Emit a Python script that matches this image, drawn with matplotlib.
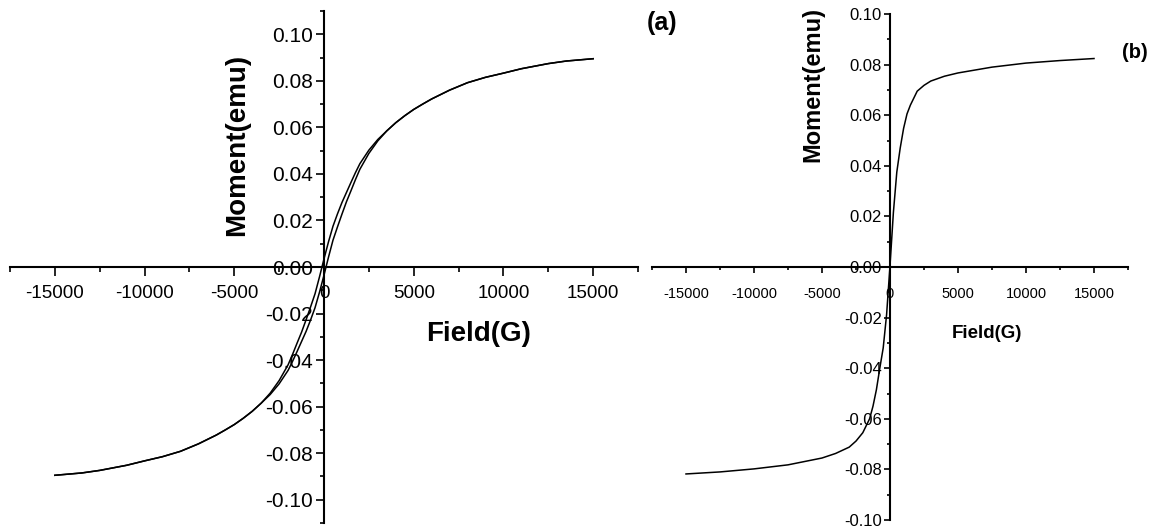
import matplotlib
matplotlib.use("Agg")
import matplotlib.pyplot as plt
from matplotlib.ticker import MultipleLocator, FuncFormatter
from matplotlib import font_manager

# ---------------- data ----------------
# Panel (a): hysteresis loop, two branches
field_a = [-15000, -13500, -12500, -11000, -10000, -9000, -8000, -7000, -6000, -5500,
           -5000, -4500, -4000, -3500, -3000, -2500, -2000, -1750, -1500, -1250,
           -1000, -750, -500, -250, 0, 250, 500, 750, 1000, 1250, 1500, 1750, 2000,
           2500, 3000, 3500, 4000, 4500, 5000, 5500, 6000, 7000, 8000, 9000, 10000,
           11000, 12500, 13500, 15000]
moment_a_desc = [-0.0895, -0.0885, -0.0874, -0.0852, -0.0833, -0.0815, -0.0792, -0.0760,
                 -0.0722, -0.0700, -0.0677, -0.0650, -0.0620, -0.0585, -0.0542, -0.0488,
                 -0.0420, -0.0375, -0.0327, -0.0280, -0.0227, -0.0172, -0.0115, -0.0042,
                 0.0035, 0.0108, 0.0175, 0.0228, 0.0277, 0.0320, 0.0363, 0.0405, 0.0444,
                 0.0502, 0.0548, 0.0585, 0.0620, 0.0650, 0.0677, 0.0700, 0.0722, 0.0760,
                 0.0792, 0.0815, 0.0833, 0.0852, 0.0874, 0.0885, 0.0895]
moment_a_asc = [-0.0895, -0.0885, -0.0874, -0.0852, -0.0833, -0.0815, -0.0792, -0.0760,
                -0.0722, -0.0700, -0.0677, -0.0650, -0.0620, -0.0585, -0.0548, -0.0502,
                -0.0444, -0.0405, -0.0363, -0.0320, -0.0277, -0.0228, -0.0175, -0.0108,
                -0.0035, 0.0042, 0.0115, 0.0172, 0.0227, 0.0280, 0.0327, 0.0375, 0.0420,
                0.0488, 0.0542, 0.0585, 0.0620, 0.0650, 0.0677, 0.0700, 0.0722, 0.0760,
                0.0792, 0.0815, 0.0833, 0.0852, 0.0874, 0.0885, 0.0895]

# Panel (b): single magnetisation curve
field_b = [-15000, -12500, -10000, -7500, -5000, -4000, -3000, -2500, -2000, -1500,
           -1250, -1000, -750, -500, -250, 0, 250, 500, 750, 1000, 1250, 1500, 2000,
           2500, 3000, 4000, 5000, 7500, 10000, 12500, 15000]
moment_b = [-0.0818, -0.0810, -0.0798, -0.0782, -0.0755, -0.0737, -0.0712, -0.0688,
            -0.0655, -0.0600, -0.0550, -0.0485, -0.0400, -0.0320, -0.0188, 0.0005,
            0.0216, 0.0375, 0.0470, 0.0548, 0.0605, 0.0640, 0.0695, 0.0718, 0.0735,
            0.0754, 0.0767, 0.0790, 0.0806, 0.0816, 0.0824]

x_major = 5000
y_major = 0.02
x_label = "Field(G)"
y_label = "Moment(emu)"

# ---------------- style ----------------
names = {f.name for f in font_manager.fontManager.ttflist}
base = "Liberation Sans" if "Liberation Sans" in names else "DejaVu Sans"
plt.rcParams["font.family"] = [base, "DejaVu Sans"]

W, H = 1152, 530
fig = plt.figure(figsize=(W / 100, H / 100), dpi=100)


def px_rect(l, t, r, b):
    return [l / W, 1 - b / H, (r - l) / W, (b - t) / H]


def style_axes(ax, xlim, ylim, xsize, ysize, xlen, ylen, xpad, ypad):
    ax.set_xlim(*xlim)
    ax.set_ylim(*ylim)
    for s in ("top", "right"):
        ax.spines[s].set_visible(False)
    for s in ("left", "bottom"):
        ax.spines[s].set_position(("data", 0))
        ax.spines[s].set_linewidth(1.5)
    ax.xaxis.set_major_locator(MultipleLocator(x_major))
    ax.xaxis.set_minor_locator(MultipleLocator(x_major / 2))
    ax.yaxis.set_major_locator(MultipleLocator(y_major))
    ax.yaxis.set_minor_locator(MultipleLocator(y_major / 2))
    ax.xaxis.set_major_formatter(FuncFormatter(lambda v, p: f"{int(round(v))}"))
    ax.yaxis.set_major_formatter(FuncFormatter(
        lambda v, p: "0.00" if abs(v) < 1e-9 else f"{v:.2f}"))
    ax.tick_params(axis="x", which="major", direction="out", length=xlen, width=1.2,
                   labelsize=xsize, pad=xpad)
    ax.tick_params(axis="x", which="minor", direction="out", length=xlen * 0.5, width=1.2)
    ax.tick_params(axis="y", which="major", direction="out", length=ylen, width=1.2,
                   labelsize=ysize, pad=ypad)
    ax.tick_params(axis="y", which="minor", direction="out", length=ylen * 0.5, width=1.2)
    ax.patch.set_alpha(0)


# Panel (a)
ax_a = fig.add_axes(px_rect(10, 11, 638, 523))
ax_a.plot(field_a, moment_a_desc, color="black", lw=1.1)
ax_a.plot(field_a, moment_a_asc, color="black", lw=1.1)
style_axes(ax_a, (-17500, 17500), (-0.11, 0.11), 13.5, 15, 6.5, 6, 6.5, 2)
fig.text(237 / W, 1 - 145 / H, y_label, rotation=90, ha="center", va="center",
         fontsize=20, fontweight="bold")
fig.text(479 / W, 1 - 334 / H, x_label, ha="center", va="center",
         fontsize=20, fontweight="bold")
fig.text(662 / W, 1 - 23 / H, "(a)", ha="center", va="center",
         fontsize=18, fontweight="bold")

# Panel (b)
ax_b = fig.add_axes(px_rect(652, 14, 1128, 520))
ax_b.plot(field_b, moment_b, color="black", lw=1.1)
style_axes(ax_b, (-17500, 17500), (-0.10, 0.10), 10.5, 12, 4.3, 4.3, 10, 1.5)
fig.text(813 / W, 1 - 162 / H, y_label, rotation=90, ha="center", va="bottom",
         fontsize=17, fontweight="bold")
fig.text(987 / W, 1 - 334 / H, x_label, ha="center", va="center",
         fontsize=13.5, fontweight="bold")
fig.text(1135 / W, 1 - 53 / H, "(b)", ha="center", va="center",
         fontsize=14.5, fontweight="bold")

fig.savefig("out.png", dpi=100)
